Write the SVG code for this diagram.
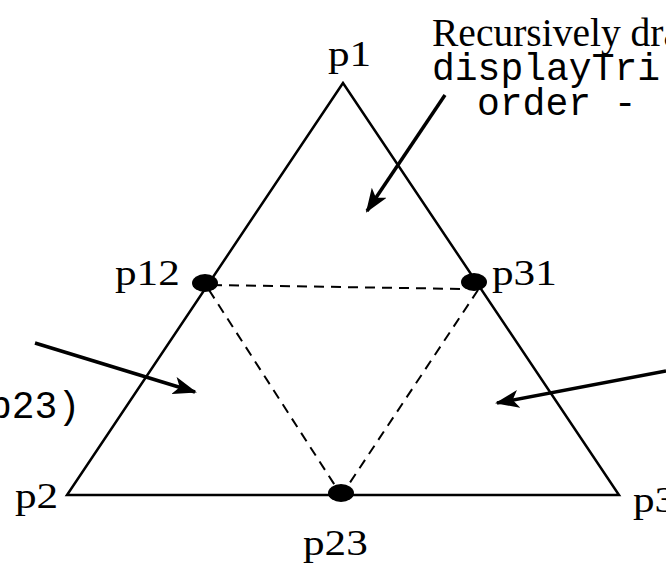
<svg xmlns="http://www.w3.org/2000/svg" width="666" height="570" viewBox="0 0 666 570">
<style>
.lbl{font-family:"Liberation Serif","Times New Roman",serif;font-size:36px;fill:#000}
.note{font-family:"Liberation Serif","Times New Roman",serif;font-size:39.5px;fill:#000}
.code{font-family:"Liberation Mono","Courier New",monospace;font-size:38px;fill:#000}
.edge{fill:none;stroke:#000;stroke-width:2.5}
.dash{fill:none;stroke:#000;stroke-width:2;stroke-dasharray:10 7}
.arr{fill:none;stroke:#000;stroke-width:3.5;marker-end:url(#ah)}
.dot{fill:#000}
</style>
<defs>
<marker id="ah" viewBox="0 0 24 18" refX="22" refY="9" markerWidth="24" markerHeight="18" markerUnits="userSpaceOnUse" orient="auto">
<path d="M0,0 L24,9 L0,18 L6,9 Z" fill="#000"/>
</marker>
</defs>
<rect width="666" height="570" fill="#fff"/>
<g id="triangle">
<polygon class="edge" points="343,83 67,495 619,495"/>
</g>
<g id="connectors">
<line class="dash" x1="212" y1="285" x2="466" y2="289"/>
<line class="dash" x1="209" y1="290" x2="336" y2="487"/>
<line class="dash" x1="478" y1="290" x2="347" y2="487"/>
<line class="arr" x1="445" y1="95" x2="367" y2="211"/>
<line class="arr" x1="35" y1="343" x2="195" y2="392"/>
<line class="arr" x1="666" y1="371" x2="497" y2="403"/>
</g>
<g id="p1"><text class="lbl" transform="translate(328,66) scale(1.2,1)">p1</text></g>
<g id="p12"><ellipse class="dot" cx="205" cy="283" rx="13" ry="9"/><text class="lbl" transform="translate(115,285) scale(1.2,1)">p12</text></g>
<g id="p31"><ellipse class="dot" cx="474" cy="282" rx="13" ry="9"/><text class="lbl" transform="translate(492,285) scale(1.2,1)">p31</text></g>
<g id="p23"><ellipse class="dot" cx="341" cy="493" rx="13" ry="9"/><text class="lbl" transform="translate(303,555) scale(1.2,1)">p23</text></g>
<g id="p2"><text class="lbl" transform="translate(15,508) scale(1.2,1)">p2</text></g>
<g id="p3"><text class="lbl" transform="translate(633,512) scale(1.2,1)">p3</text></g>
<g id="note-top">
<text class="note" x="432" y="46">Recursively dra</text>
<text class="code" x="432" y="80">displayTri</text>
<text class="code" x="477" y="115">order -</text>
</g>
<g id="note-left">
<text class="code" x="-11" y="418">p23)</text>
</g>
</svg>
